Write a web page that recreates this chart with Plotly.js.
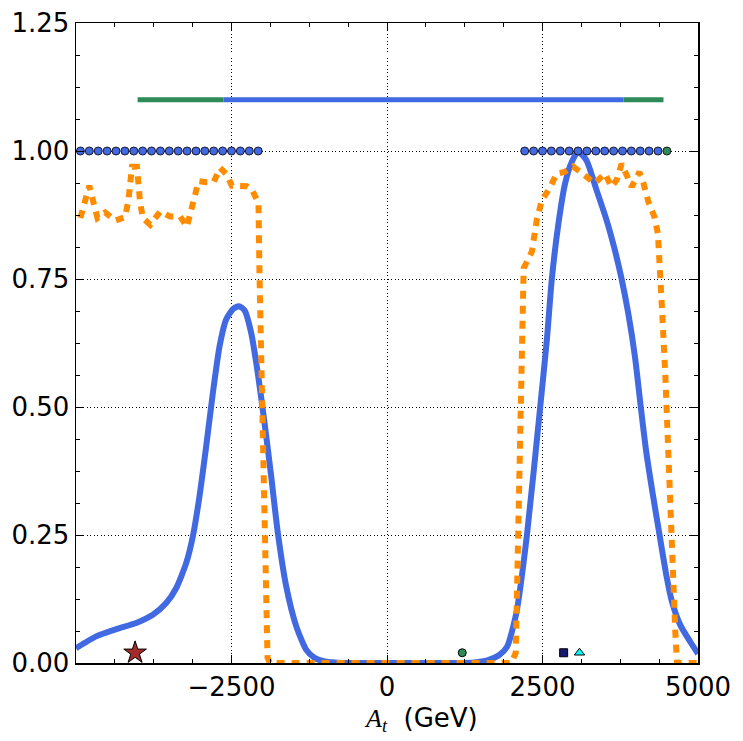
<!DOCTYPE html>
<html>
<head>
<meta charset="utf-8">
<script src="https://cdn.plot.ly/plotly-3.0.1.min.js"></script>
<style>html,body{margin:0;padding:0;background:#fff;}#chart{width:743px;height:741px;}</style>
</head>
<body>
<div id="chart"></div>
<script>
// Blue solid curve
const blueX = [-5000, -4676, -4354, -4033, -3765, -3550, -3390, -3229, -3122, -3014, -2907, -2800, -2693, -2586, -2479, -2382, -2291, -2184, -2077, -1969, -1862, -1755, -1621, -1460, -1300, -1166, -1000, -700, 0, 1000, 1400, 1612, 1800, 1931, 2080, 2250, 2463, 2570, 2650, 2757, 2864, 2972, 3071, 3206, 3368, 3530, 3664, 3772, 3880, 3988, 4080, 4166, 4274, 4382, 4490, 4581, 4716, 4878, 5000];
const blueY = [0.029, 0.052, 0.066, 0.078, 0.094, 0.117, 0.146, 0.195, 0.247, 0.326, 0.423, 0.527, 0.618, 0.671, 0.691, 0.697, 0.689, 0.645, 0.566, 0.469, 0.365, 0.254, 0.150, 0.072, 0.026, 0.010, 0.003, 0.0, 0.0, 0.0, 0.001, 0.005, 0.015, 0.032, 0.098, 0.250, 0.500, 0.631, 0.750, 0.859, 0.937, 0.979, 0.999, 0.982, 0.924, 0.865, 0.806, 0.750, 0.682, 0.597, 0.500, 0.414, 0.329, 0.250, 0.172, 0.120, 0.074, 0.041, 0.018];

// Orange dashed curve
const orangeX = [-4930, -4855, -4786, -4720, -4655, -4531, -4370, -4209, -4156, -4100, -4020, -3970, -3925, -3807, -3646, -3486, -3325, -3217, -3163, -3110, -3030, -2896, -2789, -2682, -2575, -2494, -2253, -2172, -2066, -2050, -1921, -1880, 0, 2000, 2070, 2144, 2197, 2330, 2410, 2489, 2622, 2729, 2855, 2990, 3152, 3341, 3503, 3610, 3691, 3772, 3853, 3934, 4058, 4123, 4204, 4301, 4355, 4382, 4420, 4474, 4511, 4554, 4592, 4635, 4662, 5000];
const orangeY = [0.869, 0.901, 0.932, 0.900, 0.869, 0.880, 0.864, 0.871, 0.905, 0.969, 0.969, 0.900, 0.869, 0.856, 0.882, 0.872, 0.872, 0.852, 0.880, 0.910, 0.941, 0.939, 0.939, 0.967, 0.954, 0.932, 0.931, 0.925, 0.898, 0.760, 0.010, 0.0, 0.0, 0.0, 0.020, 0.430, 0.771, 0.804, 0.867, 0.903, 0.929, 0.956, 0.959, 0.970, 0.956, 0.937, 0.956, 0.930, 0.943, 0.975, 0.953, 0.930, 0.959, 0.937, 0.900, 0.871, 0.839, 0.760, 0.695, 0.564, 0.433, 0.303, 0.172, 0.061, 0.0, 0.0];

// Horizontal bar at y = 1.1
const barY = 1.1;
const greenLeftX = [-4010, -2630];
const blueBarX = [-2630, 3800];
const greenRightX = [3800, 4445];

// Dots at y = 1.0
const dotsBlueX = [-4929, -4786, -4643, -4500, -4357, -4214, -4071, -3929, -3786, -3643, -3500, -3357, -3214, -3071, -2929, -2786, -2643, -2500, -2357, -2214, -2071,
                   2214, 2357, 2500, 2643, 2786, 2929, 3071, 3214, 3357, 3500, 3643, 3786, 3929, 4071, 4214, 4357];
const dotsGreenX = [4500];
const dotsY = 1.0;

// Bottom markers
const starX = [-4050], starY = [0.02];
const circX = [1210], circY = [0.02];
const squareX = [2840], squareY = [0.02];
const triX = [3095], triY = [0.02];

// Ticks
const xTickVals = [-2500, 0, 2500, 5000];
const xTickText = ['\u22122500', '0', '2500', '5000'];
const yTickVals = [0, 0.25, 0.5, 0.75, 1.0, 1.25];
const yTickText = ['0.00', '0.25', '0.50', '0.75', '1.00', '1.25'];
const xLabel = '<span style="font-family:Liberation Serif"><i>A</i><sub><i>t</i></sub></span>  (GeV)';

const royal = '#4169e1', orange = '#ff8c00', sea = '#2e8b57';

const traces = [
  {x: blueX, y: blueY, mode: 'lines', line: {color: royal, width: 6, shape: 'spline', smoothing: 0.6}},
  {x: orangeX, y: orangeY, mode: 'lines', line: {color: orange, width: 6, dash: '8px,7px'}},
  {x: greenLeftX, y: greenLeftX.map(() => barY), mode: 'lines', line: {color: sea, width: 5}},
  {x: blueBarX, y: blueBarX.map(() => barY), mode: 'lines', line: {color: royal, width: 5}},
  {x: greenRightX, y: greenRightX.map(() => barY), mode: 'lines', line: {color: sea, width: 5}},
  {x: dotsBlueX, y: dotsBlueX.map(() => dotsY), mode: 'markers', marker: {color: royal, size: 8, line: {color: '#1a1a2e', width: 1}}},
  {x: dotsGreenX, y: dotsGreenX.map(() => dotsY), mode: 'markers', marker: {color: sea, size: 8, line: {color: '#1a1a2e', width: 1}}},
  {x: starX, y: starY, mode: 'markers', marker: {symbol: 'star', color: '#a52a2a', size: 17, line: {color: '#000', width: 1}}},
  {x: circX, y: circY, mode: 'markers', marker: {symbol: 'circle', color: sea, size: 8, line: {color: '#000', width: 1}}},
  {x: squareX, y: squareY, mode: 'markers', marker: {symbol: 'square', color: '#191970', size: 8, line: {color: '#000', width: 1}}},
  {x: triX, y: triY, mode: 'markers', marker: {symbol: 'triangle-up', color: '#00ffff', size: 9, line: {color: '#000', width: 1}}}
];

const font = {family: 'DejaVu Sans, sans-serif', size: 26, color: '#000'};

const layout = {
  width: 743, height: 741,
  margin: {l: 76, r: 45, t: 23, b: 78, pad: 0},
  paper_bgcolor: '#fff', plot_bgcolor: '#fff',
  showlegend: false,
  font: font,
  xaxis: {
    range: [-5000, 5000],
    tickmode: 'array', tickvals: xTickVals, ticktext: xTickText,
    ticks: 'inside', ticklen: 8, tickwidth: 1, tickcolor: '#000',
    showline: true, linecolor: '#000', linewidth: 1.5, mirror: 'ticks',
    showgrid: true, gridcolor: '#000', griddash: '1px,2.5px', gridwidth: 1,
    zeroline: false,
    tickfont: font,
    minor: {dtick: 625, tick0: 0, ticks: 'inside', ticklen: 4, tickcolor: '#000', showgrid: false}
  },
  yaxis: {
    range: [0, 1.25],
    tickmode: 'array', tickvals: yTickVals, ticktext: yTickText,
    ticks: 'inside', ticklen: 8, tickwidth: 1, tickcolor: '#000',
    showline: true, linecolor: '#000', linewidth: 1.5, mirror: 'ticks',
    showgrid: true, gridcolor: '#000', griddash: '1px,2.5px', gridwidth: 1,
    zeroline: false,
    tickfont: font,
    minor: {dtick: 0.0625, tick0: 0, ticks: 'inside', ticklen: 4, tickcolor: '#000', showgrid: false}
  },
  annotations: [{
    text: xLabel, showarrow: false,
    xref: 'paper', yref: 'paper', x: 0.5547, y: 0,
    xanchor: 'center', yanchor: 'top', yshift: -38,
    font: font
  }]
};

Plotly.newPlot('chart', traces, layout, {displayModeBar: false, staticPlot: true});
</script>
</body>
</html>
